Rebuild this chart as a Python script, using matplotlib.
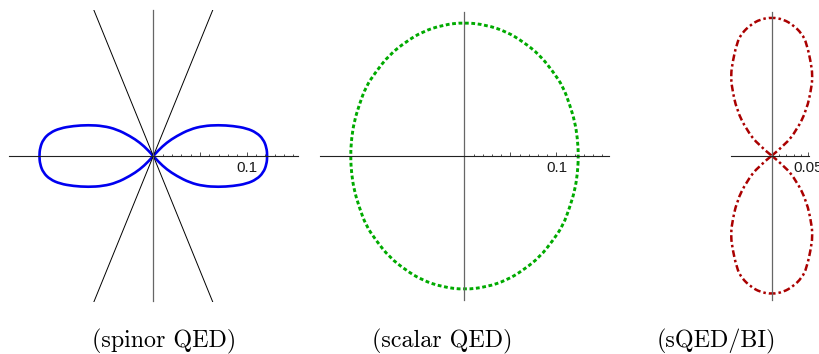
import numpy as np
import matplotlib
matplotlib.use('Agg')
import matplotlib.pyplot as plt
from matplotlib.path import Path
from matplotlib.patches import PathPatch

# values (data units), one quadrant each, mirrored by symmetry
# spinor QED: right lobe, upper half, from tip back to the origin
spinor_x = [0.1222, 0.1214, 0.1179, 0.1107, 0.1000, 0.0857, 0.0697, 0.0536, 0.0393, 0.0250, 0.0143, 0.0054, 0.0]
spinor_y = [0.0, 0.0089, 0.0179, 0.0250, 0.0297, 0.0322, 0.0332, 0.0322, 0.0286, 0.0214, 0.0143, 0.0061, 0.0]
cone_slope = 2.455

# scalar QED: first quadrant, from the x axis up to the top
scalar_x = [0.1239, 0.1228, 0.1199, 0.1145, 0.1072, 0.0963, 0.0818, 0.0637, 0.0457, 0.0239, 0.0]
scalar_y = [0.0, 0.0192, 0.0373, 0.0554, 0.0753, 0.0916, 0.1098, 0.1242, 0.1351, 0.1424, 0.1453]

# sQED/BI: upper lobe, right half, from the origin up to the top
bi_x = [0.0, 0.0182, 0.0342, 0.0478, 0.0546, 0.0555, 0.0546, 0.0478, 0.0410, 0.0291, 0.0158, 0.0]
bi_y = [0.0, 0.0146, 0.0351, 0.0624, 0.0943, 0.1080, 0.1216, 0.1536, 0.1670, 0.1786, 0.1863, 0.1890]

captions = ['(spinor QED)', '(scalar QED)', '(sQED/BI)']

W, H = 820, 354
fig = plt.figure(figsize=(W / 100, H / 100), dpi=100)


def make_axes(box, origin, scale, xbounds, ybounds, majors, labels, minors):
    x0, x1, y0, y1 = box
    ox, oy = origin
    ax = fig.add_axes([x0 / W, (H - y1) / H, (x1 - x0) / W, (y1 - y0) / H])
    ax.set_xlim((x0 - ox) / scale, (x1 - ox) / scale)
    ax.set_ylim((oy - y1) / scale, (oy - y0) / scale)
    ax.patch.set_visible(False)
    for s in ['top', 'right']:
        ax.spines[s].set_visible(False)
    ax.spines['bottom'].set_position(('data', 0))
    ax.spines['left'].set_position(('data', 0))
    ax.spines['bottom'].set_bounds(*xbounds)
    ax.spines['left'].set_bounds(*ybounds)
    ax.spines['bottom'].set_color('#222222')
    ax.spines['left'].set_color('#666666')
    ax.spines['bottom'].set_linewidth(0.8)
    ax.spines['left'].set_linewidth(0.9)
    ax.tick_params(axis='y', left=False, labelleft=False)
    ax.set_xticks(majors, labels=labels)
    ax.set_xticks(minors, minor=True)
    ax.tick_params(axis='x', which='major', direction='in', length=3, width=0.6,
                   color='#333333', pad=3.8, labelsize=11, labelcolor='#1a1a1a',
                   labelfontfamily='Liberation Sans')
    ax.tick_params(axis='x', which='minor', direction='in', length=1.8, width=0.6,
                   color='#333333')
    return ax


def smooth(ax, x, y, closed=False, **kw):
    # quadratic Bezier through midpoints of the read points
    pts = np.column_stack([x, y])
    if closed:
        mids = (pts + np.roll(pts, -1, axis=0)) / 2
        verts = [mids[-1]]
        codes = [Path.MOVETO]
        for i in range(len(pts)):
            verts += [pts[i], mids[i]]
            codes += [Path.CURVE3, Path.CURVE3]
    else:
        verts = [pts[0]]
        codes = [Path.MOVETO]
        for i in range(1, len(pts) - 1):
            verts += [pts[i], (pts[i] + pts[i + 1]) / 2 if i < len(pts) - 2 else pts[i + 1]]
            codes += [Path.CURVE3, Path.CURVE3]
    ax.add_patch(PathPatch(Path(verts, codes), fill=False, clip_on=False, **kw))


# panel 1: spinor QED
ax1 = make_axes((9, 298, 10, 302), (153.3, 156), 933,
                (-0.1543, 0.1548), (-0.155, 0.1565),
                [0.05, 0.1], ['', '0.1'],
                [0.01, 0.02, 0.03, 0.04, 0.06, 0.07, 0.08, 0.09, 0.11, 0.12, 0.13, 0.14, 0.15])
sx = np.array(spinor_x)
sy = np.array(spinor_y)
lobe_x = np.concatenate([sx[::-1], sx[1:]])
lobe_y = np.concatenate([sy[::-1], -sy[1:]])
ax1.axline((0, 0), slope=cone_slope, color='black', lw=0.7)
ax1.axline((0, 0), slope=-cone_slope, color='black', lw=0.7)
smooth(ax1, lobe_x, lobe_y, edgecolor='#0000F0', lw=1.9)
smooth(ax1, -lobe_x, lobe_y, edgecolor='#0000F0', lw=1.9)

# panel 2: scalar QED
ax2 = make_axes((320, 609, 11, 301), (464.5, 156), 920,
                (-0.157, 0.157), (-0.1565, 0.1568),
                [0.05, 0.1], ['', '0.1'],
                [0.01, 0.02, 0.03, 0.04, 0.06, 0.07, 0.08, 0.09, 0.11, 0.12, 0.13, 0.14, 0.15])
cx = np.array(scalar_x)
cy = np.array(scalar_y)
ell_x = np.concatenate([cx, -cx[::-1][1:], -cx[1:], cx[::-1][1:-1]])
ell_y = np.concatenate([cy, cy[::-1][1:], -cy[1:], -cy[::-1][1:-1]])
smooth(ax2, ell_x, ell_y, closed=True, edgecolor='#00AA00', lw=2.1,
       linestyle=(0, (1.3, 0.9)))

# panel 3: sQED/BI
ax3 = make_axes((725, 820, 12, 301), (771.7, 155.7), 732,
                (-0.056, 0.0514), (-0.197, 0.196),
                [0.05], ['0.05'],
                [0.01, 0.02, 0.03, 0.04])
bx = np.array(bi_x)
by = np.array(bi_y)
up_x = np.concatenate([bx, -bx[::-1][1:]])
up_y = np.concatenate([by, by[::-1][1:]])
smooth(ax3, up_x, up_y, edgecolor='#AA0000', lw=1.8, linestyle=(0, (2.7, 1.2, 1.0, 1.2)))
smooth(ax3, up_x, -up_y, edgecolor='#AA0000', lw=1.8, linestyle=(0, (2.7, 1.2, 1.0, 1.2)))

# captions
for cxp, txt in zip([164, 442, 716], captions):
    fig.text(cxp / W, (H - 347.5) / H, txt, ha='center', va='baseline',
             fontfamily='cmr10', fontsize=17.3)

fig.savefig('out.png', dpi=100)
